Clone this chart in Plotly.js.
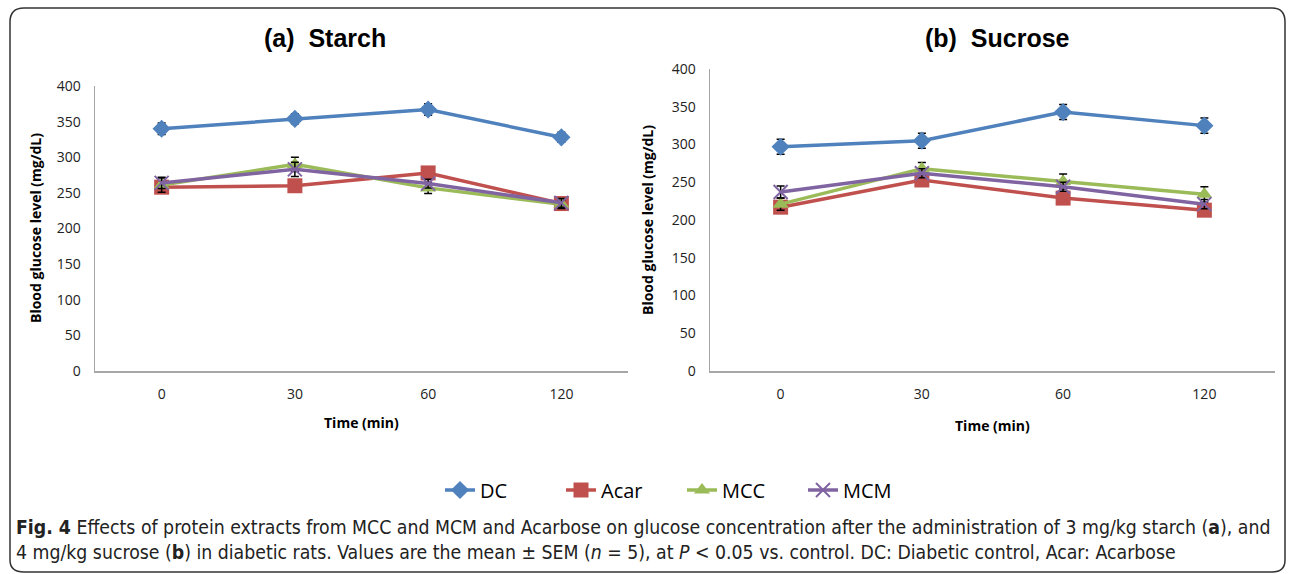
<!DOCTYPE html>
<html>
<head>
<meta charset="utf-8">
<script src="https://cdn.plot.ly/plotly-3.0.1.min.js"></script>
<style>html,body{margin:0;padding:0;background:#fff;}#chart{width:1292px;height:574px;}</style>
</head>
<body>
<div id="chart"></div>
<script>
// ---- Data ----
const timeLabels = ['0', '30', '60', '120'];
const seriesNames = ['DC', 'Acar', 'MCC', 'MCM'];

// (a) Starch
const starchDC   = [340, 354, 367, 328];
const starchAcar = [258, 260, 278, 235];
const starchMCC  = [261, 290, 257, 234];
const starchMCM  = [264, 283, 263, 236];
const starchDCErr   = [8, 7, 8, 7];
const starchAcarErr = [5, 8, 6, 7];
const starchMCCErr  = [10, 10, 8, 6];
const starchMCMErr  = [8, 10, 6, 6];

// (b) Sucrose
const sucroseDC   = [297, 305, 343, 325];
const sucroseAcar = [217, 253, 229, 213];
const sucroseMCC  = [221, 268, 251, 234];
const sucroseMCM  = [237, 262, 244, 221];
const sucroseDCErr   = [10, 10, 10, 10];
const sucroseAcarErr = [6, 6, 6, 6];
const sucroseMCCErr  = [8, 8, 10, 10];
const sucroseMCMErr  = [8, 6, 6, 6];

const colors = ['#4F81BD', '#C0504D', '#9BBB59', '#8064A2'];
const symbols = ['diamond', 'square', 'triangle-up', 'x-thin-open'];
const msizes = [14, 15, 14, 14];

function mk(name, idx, y, err, xa, ya, showLegend) {
  return {
    type: 'scatter', mode: 'lines+markers', name: name,
    x: timeLabels, y: y, xaxis: xa, yaxis: ya, showlegend: showLegend,
    line: {color: colors[idx], width: 3.5},
    marker: {symbol: symbols[idx], size: msizes[idx], color: colors[idx],
             line: {color: colors[idx], width: idx === 3 ? 2 : 0}},
    error_y: {type: 'data', array: err, visible: true, color: '#000', thickness: 1.5, width: 4}
  };
}

const starchY = [starchDC, starchAcar, starchMCC, starchMCM];
const starchE = [starchDCErr, starchAcarErr, starchMCCErr, starchMCMErr];
const sucroseY = [sucroseDC, sucroseAcar, sucroseMCC, sucroseMCM];
const sucroseE = [sucroseDCErr, sucroseAcarErr, sucroseMCCErr, sucroseMCMErr];

const traces = [];
seriesNames.forEach((n, i) => traces.push(mk(n, i, starchY[i], starchE[i], 'x', 'y', true)));
seriesNames.forEach((n, i) => traces.push(mk(n, i, sucroseY[i], sucroseE[i], 'x2', 'y2', false)));

const W = 1292, H = 574;
const px = v => v / W, py = v => 1 - v / H;

const tickFont = {family: 'Open Sans, sans-serif', size: 14, color: '#222'};
const axX = (dom, anchor) => ({
  domain: dom, anchor: anchor, type: 'category', range: [-0.5, 3.5],
  showline: true, linecolor: '#A6A6A6', linewidth: 1.5, showgrid: false, zeroline: false,
  ticks: '', tickfont: tickFont, ticklabelstandoff: 10, fixedrange: true
});
const axY = (dom, anchor) => ({
  domain: dom, anchor: anchor, range: [0, 400], dtick: 50, tick0: 0,
  showline: true, linecolor: '#A6A6A6', linewidth: 1.5, showgrid: false, zeroline: false,
  ticks: '', tickfont: tickFont, ticklabelstandoff: 10, fixedrange: true
});

const titleFont = {family: 'Liberation Sans, Arial, sans-serif', size: 25, color: '#000'};
const axTitleFont = {family: 'Open Sans, sans-serif', size: 14, color: '#000'};
const capFont = {family: 'DejaVu Sans Condensed, sans-serif', size: 19.3, color: '#222'};

const layout = {
  width: W, height: H,
  margin: {l: 0, r: 0, t: 0, b: 0},
  paper_bgcolor: '#fff', plot_bgcolor: '#fff',
  xaxis: axX([px(95), px(628)], 'y'),
  yaxis: axY([py(371), py(86)], 'x'),
  xaxis2: axX([px(710), px(1275)], 'y2'),
  yaxis2: axY([py(371), py(69)], 'x2'),
  showlegend: true,
  legend: {orientation: 'h', x: px(440), xanchor: 'left', y: py(490), yanchor: 'middle',
           font: {family: 'Open Sans, sans-serif', size: 20, color: '#000'},
           entrywidth: 76, entrywidthmode: 'pixels', tracegroupgap: 0, bgcolor: 'rgba(0,0,0,0)'},
  shapes: [{
    type: 'path', xref: 'paper', yref: 'paper',
    path: `M ${px(10)},${py(22)} Q ${px(10)},${py(8)} ${px(24)},${py(8)} L ${px(1272)},${py(8)} Q ${px(1285)},${py(8)} ${px(1285)},${py(22)} L ${px(1285)},${py(560)} Q ${px(1285)},${py(572)} ${px(1272)},${py(572)} L ${px(24)},${py(572)} Q ${px(10)},${py(572)} ${px(10)},${py(560)} Z`,
    line: {color: '#333', width: 1.5}
  }],
  annotations: [
    {text: '<b>(a)  Starch</b>', x: px(325), y: py(38), xref: 'paper', yref: 'paper', showarrow: false, xanchor: 'center', yanchor: 'middle', font: titleFont},
    {text: '<b>(b)  Sucrose</b>', x: px(997), y: py(38), xref: 'paper', yref: 'paper', showarrow: false, xanchor: 'center', yanchor: 'middle', font: titleFont},
    {text: '<b>Blood glucose level (mg/dL)</b>', x: px(35), y: py(228), xref: 'paper', yref: 'paper', showarrow: false, textangle: -90, xanchor: 'center', yanchor: 'middle', font: axTitleFont},
    {text: '<b>Blood glucose level (mg/dL)</b>', x: px(648), y: py(220), xref: 'paper', yref: 'paper', showarrow: false, textangle: -90, xanchor: 'center', yanchor: 'middle', font: axTitleFont},
    {text: '<b>Time (min)</b>', x: px(361), y: py(422), xref: 'paper', yref: 'paper', showarrow: false, xanchor: 'center', yanchor: 'middle', font: axTitleFont},
    {text: '<b>Time (min)</b>', x: px(992), y: py(425), xref: 'paper', yref: 'paper', showarrow: false, xanchor: 'center', yanchor: 'middle', font: axTitleFont},
    {text: '<b>Fig. 4</b> Effects of protein extracts from MCC and MCM and Acarbose on glucose concentration after the administration of 3 mg/kg starch (<b>a</b>), and', x: px(14), y: py(527), xref: 'paper', yref: 'paper', showarrow: false, xanchor: 'left', yanchor: 'middle', align: 'left', font: capFont},
    {text: '4 mg/kg sucrose (<b>b</b>) in diabetic rats. Values are the mean ± SEM (<i>n</i> = 5), at <i>P</i> &lt; 0.05 vs. control. DC: Diabetic control, Acar: Acarbose', x: px(14), y: py(552), xref: 'paper', yref: 'paper', showarrow: false, xanchor: 'left', yanchor: 'middle', align: 'left', font: capFont}
  ]
};

Plotly.newPlot('chart', traces, layout, {displayModeBar: false, staticPlot: true});
</script>
</body>
</html>
